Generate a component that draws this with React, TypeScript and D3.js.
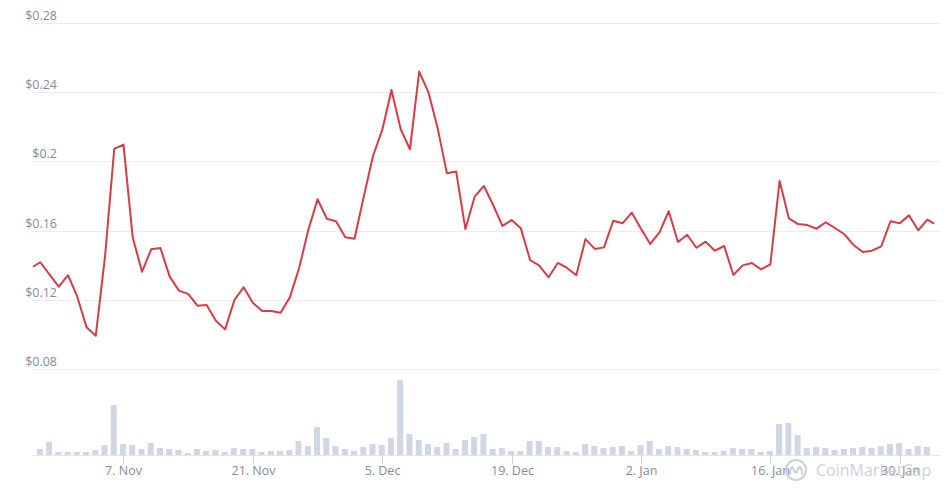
import React, { useEffect, useRef } from 'react';
import * as d3 from 'd3';

// daily closes, 29 Oct .. 2 Feb
const firstDay = '2021-10-29';
const prices = [
  0.1417, 0.1346, 0.1276,
  0.1342, 0.1218, 0.1041, 0.0992, 0.1449, 0.2072, 0.2097, 0.1561, 0.1362, 0.1492,
  0.1499, 0.1334, 0.1253, 0.1234, 0.1166, 0.117, 0.1079, 0.1029, 0.1199, 0.1272,
  0.1183, 0.1135, 0.1135, 0.1125, 0.1214, 0.1382, 0.1603, 0.1781, 0.1669, 0.1654,
  0.1561, 0.1553, 0.1796, 0.2031, 0.2182, 0.2413, 0.2186, 0.207, 0.2519, 0.2399,
  0.2191, 0.1931, 0.1941, 0.1609, 0.1796, 0.1858, 0.1748, 0.1627, 0.1661, 0.1613,
  0.143, 0.1397, 0.133, 0.1413, 0.1384, 0.1342, 0.1551, 0.1494, 0.1503, 0.1657, 0.1642,
  0.1704, 0.1611, 0.1523, 0.159, 0.1712, 0.1534, 0.1576, 0.1501, 0.1536, 0.1484,
  0.1511, 0.1343, 0.1399, 0.1413, 0.1376, 0.1405, 0.1887, 0.1671, 0.1638, 0.1632,
  0.1611, 0.1648, 0.1615, 0.1579, 0.1517, 0.1476, 0.1484, 0.1509, 0.1654, 0.1642,
  0.1688, 0.1602, 0.1663,
];
// intraday points at both ends of the range
const openPoint = { time: '2021-10-28T05:00:00Z', price: 0.1391 };
const lastPoint = { time: '2022-02-02T17:00:00Z', price: 0.164 };

// daily volume (millions)
const volumes = [
  6, 13, 3,
  3, 3, 3, 5, 10, 50, 11, 10, 6, 12, 7, 6, 5, 2, 6, 4, 5, 3, 7, 6, 6, 3, 4, 4, 5, 14, 9, 28, 17, 9,
  6, 4, 8, 11, 10, 17, 75, 21, 15, 11, 8, 12, 6, 15, 18, 21, 6, 7, 4, 4, 14, 14, 8, 8, 4, 3, 11, 9, 7, 8, 9,
  4, 10, 14, 6, 9, 8, 6, 5, 3, 3, 4, 7, 6, 6, 3, 4, 31, 32, 20, 7, 8, 7, 5, 6, 7, 8, 7, 9, 11, 12, 6,
  9, 8,
];

const priceTicks = [0.08, 0.12, 0.16, 0.2, 0.24, 0.28];
const dateTicks = ['2021-11-07', '2021-11-21', '2021-12-05', '2021-12-19', '2022-01-02', '2022-01-16', '2022-01-30'];

const W = 946;
const H = 488;

export default function App() {
  const ref = useRef<SVGSVGElement>(null);

  useEffect(() => {
    const svg = d3.select(ref.current);
    svg.selectAll('*').remove();

    const start = new Date(firstDay + 'T00:00:00Z');
    const days = prices.map((_, i) => d3.utcDay.offset(start, i));
    const line: [Date, number][] = [
      [new Date(openPoint.time), openPoint.price],
      ...days.map((d, i) => [d, prices[i]] as [Date, number]),
      [new Date(lastPoint.time), lastPoint.price],
    ];

    const x = d3
      .scaleUtc()
      .domain([new Date(openPoint.time), new Date(lastPoint.time)])
      .range([33, 934]);
    const y = d3.scaleLinear().domain([0.08, 0.28]).range([369, 23]);
    const yVol = d3.scaleLinear().domain([0, 80]).range([455, 375]);

    const font = "'Open Sans', sans-serif";
    const labelColor = '#858b9c';

    // grid + price labels
    const grid = svg.append('g');
    grid
      .selectAll('line')
      .data(priceTicks)
      .enter()
      .append('line')
      .attr('x1', 32)
      .attr('x2', 940)
      .attr('y1', (d) => Math.round(y(d)) + 0.5)
      .attr('y2', (d) => Math.round(y(d)) + 0.5)
      .attr('stroke', '#ececec')
      .attr('stroke-width', 1);
    grid
      .selectAll('text')
      .data(priceTicks)
      .enter()
      .append('text')
      .attr('x', 57)
      .attr('y', (d) => y(d) - 3)
      .attr('text-anchor', 'end')
      .attr('font-family', font)
      .attr('font-size', '12.5px')
      .attr('fill', labelColor)
      .text((d) => '$' + d3.format('~g')(d));

    // volume bars
    svg
      .append('g')
      .selectAll('rect')
      .data(volumes)
      .enter()
      .append('rect')
      .attr('x', (d, i) => x(days[i]) - 3.5)
      .attr('width', 6)
      .attr('y', (d) => yVol(d))
      .attr('height', (d) => 455 - yVol(d))
      .attr('fill', '#d0d6e3');

    // x axis
    const ax = svg.append('g');
    ax.append('line')
      .attr('x1', 32)
      .attr('x2', 940)
      .attr('y1', 455.5)
      .attr('y2', 455.5)
      .attr('stroke', '#e3e6ec');
    const tick = ax
      .selectAll('g')
      .data(dateTicks.map((d) => new Date(d + 'T00:00:00Z')))
      .enter()
      .append('g')
      .attr('transform', (d) => `translate(${Math.round(x(d)) + 0.5},0)`);
    tick.append('line').attr('y1', 455).attr('y2', 464).attr('stroke', '#ccd3e0');
    tick
      .append('text')
      .attr('y', 475)
      .attr('text-anchor', 'middle')
      .attr('font-family', font)
      .attr('font-size', '12.5px')
      .attr('fill', labelColor)
      .text((d) => d3.utcFormat('%-d. %b')(d));

    // price line
    svg
      .append('path')
      .datum(line)
      .attr('fill', 'none')
      .attr('stroke', '#d63c47')
      .attr('stroke-width', 2)
      .attr('stroke-linejoin', 'round')
      .attr(
        'd',
        d3
          .line<[Date, number]>()
          .x((d) => x(d[0]))
          .y((d) => y(d[1]))
      );

    // watermark
    const wm = svg.append('g').attr('transform', 'translate(796,470)').attr('opacity', 0.9);
    wm.append('circle').attr('r', 10).attr('fill', 'none').attr('stroke', '#c9cdd6').attr('stroke-width', 2.2);
    wm.append('path')
      .attr('d', 'M-6,4 L-6,1 Q-4,-6 -2,0 Q0,6 2,-1 Q4,-6 6,1 L6,4')
      .attr('fill', 'none')
      .attr('stroke', '#c9cdd6')
      .attr('stroke-width', 2.2)
      .attr('stroke-linecap', 'round');
    wm.append('text')
      .attr('x', 20)
      .attr('y', 6)
      .attr('font-family', font)
      .attr('font-size', '16px')
      .attr('fill', '#c9cdd6')
      .text('CoinMarketCap');
  }, []);

  return (
    <>
      <style>{'body{margin:0}'}</style>
      <svg ref={ref} width={W} height={H} style={{ display: 'block', background: '#fff' }} />
    </>
  );
}
